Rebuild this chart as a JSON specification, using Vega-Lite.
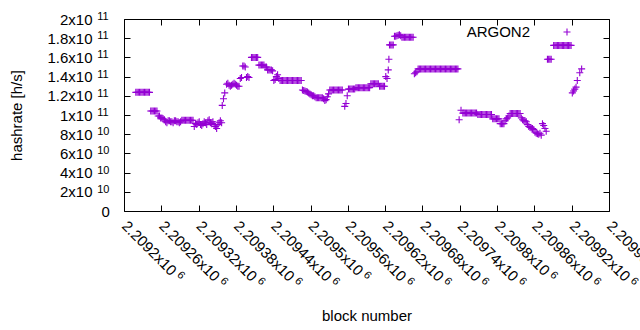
{
  "$schema": "https://vega.github.io/schema/vega-lite/v6.json",
  "width": 485,
  "height": 192,
  "autosize": "none",
  "padding": {"left": 124, "top": 19, "right": 31, "bottom": 119},
  "background": "white",
  "config": {
    "font": "Liberation Sans",
    "view": {"stroke": "black", "strokeWidth": 1},
    "axis": {"domain": false, "grid": false, "tickColor": "black", "tickSize": -6, "tickWidth": 1, "labelFont": "Liberation Sans", "labelFontSize": 15, "labelColor": "black", "titleFont": "Liberation Sans", "titleFontSize": 15, "titleFontWeight": "normal", "titleColor": "black"}
  },
  "data": {"values": [
    {"b":2209219,"h":1.236e11},{"b":2209221,"h":1.236e11},{"b":2209223,"h":1.236e11},{"b":2209225,"h":1.236e11},{"b":2209227,"h":1.236e11},{"b":2209229,"h":1.236e11},{"b":2209231,"h":1.236e11},{"b":2209233,"h":1.236e11},{"b":2209235,"h":1.236e11},{"b":2209237,"h":1.236e11},{"b":2209239,"h":1.236e11},{"b":2209241,"h":1.236e11},
    {"b":2209243,"h":1.042e11},{"b":2209245,"h":1.042e11},{"b":2209247,"h":1.042e11},{"b":2209249,"h":1.042e11},{"b":2209251,"h":1.042e11},{"b":2209253,"h":1.042e11},
    {"b":2209255,"h":9.9e10},{"b":2209257,"h":9.9e10},{"b":2209259,"h":9.7e10},{"b":2209261,"h":9.7e10},{"b":2209263,"h":9.6e10},
    {"b":2209265,"h":9.5e10},{"b":2209267,"h":9.3e10},{"b":2209269,"h":9.2e10},{"b":2209271,"h":9.4e10},{"b":2209273,"h":9.4e10},{"b":2209275,"h":9.3e10},{"b":2209277,"h":9.3e10},{"b":2209279,"h":9.2e10},{"b":2209281,"h":9.4e10},{"b":2209283,"h":9.4e10},{"b":2209285,"h":9.3e10},{"b":2209287,"h":9.3e10},{"b":2209289,"h":9.2e10},{"b":2209291,"h":9.3e10},
    {"b":2209293,"h":9.45e10},{"b":2209295,"h":9.45e10},{"b":2209297,"h":9.45e10},{"b":2209299,"h":9.45e10},{"b":2209301,"h":9.45e10},{"b":2209303,"h":9.45e10},{"b":2209305,"h":9.45e10},{"b":2209307,"h":9.45e10},{"b":2209309,"h":9.45e10},{"b":2209311,"h":9.45e10},
    {"b":2209313,"h":8.8e10},{"b":2209315,"h":9.1e10},{"b":2209317,"h":9.0e10},{"b":2209319,"h":9.2e10},{"b":2209321,"h":9.3e10},{"b":2209323,"h":9.0e10},{"b":2209325,"h":8.9e10},{"b":2209327,"h":9.1e10},{"b":2209329,"h":9.3e10},{"b":2209331,"h":9.2e10},{"b":2209333,"h":9.0e10},{"b":2209335,"h":9.4e10},{"b":2209337,"h":9.5e10},{"b":2209339,"h":9.2e10},{"b":2209341,"h":9.1e10},{"b":2209343,"h":9.3e10},{"b":2209345,"h":9.0e10},{"b":2209347,"h":8.8e10},{"b":2209349,"h":8.6e10},{"b":2209351,"h":9.0e10},{"b":2209353,"h":9.2e10},{"b":2209355,"h":9.4e10},{"b":2209357,"h":9.2e10},
    {"b":2209358,"h":1.10e11},{"b":2209360,"h":1.17e11},{"b":2209362,"h":1.23e11},
    {"b":2209365,"h":1.32e11},{"b":2209367,"h":1.33e11},{"b":2209369,"h":1.31e11},{"b":2209371,"h":1.30e11},{"b":2209373,"h":1.31e11},{"b":2209375,"h":1.32e11},{"b":2209377,"h":1.33e11},{"b":2209379,"h":1.32e11},{"b":2209381,"h":1.31e11},{"b":2209383,"h":1.30e11},{"b":2209385,"h":1.30e11},
    {"b":2209387,"h":1.38e11},{"b":2209389,"h":1.39e11},
    {"b":2209391,"h":1.51e11},{"b":2209393,"h":1.51e11},{"b":2209395,"h":1.50e11},
    {"b":2209397,"h":1.39e11},{"b":2209399,"h":1.40e11},{"b":2209401,"h":1.39e11},
    {"b":2209405,"h":1.60e11},{"b":2209407,"h":1.60e11},{"b":2209409,"h":1.60e11},{"b":2209411,"h":1.60e11},{"b":2209413,"h":1.60e11},{"b":2209415,"h":1.60e11},
    {"b":2209417,"h":1.52e11},{"b":2209419,"h":1.52e11},{"b":2209421,"h":1.52e11},{"b":2209423,"h":1.52e11},{"b":2209425,"h":1.52e11},
    {"b":2209427,"h":1.50e11},{"b":2209429,"h":1.50e11},
    {"b":2209431,"h":1.47e11},{"b":2209433,"h":1.47e11},{"b":2209435,"h":1.47e11},{"b":2209437,"h":1.47e11},{"b":2209439,"h":1.46e11},
    {"b":2209441,"h":1.36e11},{"b":2209443,"h":1.37e11},{"b":2209445,"h":1.40e11},{"b":2209447,"h":1.42e11},{"b":2209449,"h":1.38e11},
    {"b":2209451,"h":1.36e11},{"b":2209453,"h":1.36e11},{"b":2209455,"h":1.36e11},{"b":2209457,"h":1.36e11},{"b":2209459,"h":1.36e11},{"b":2209461,"h":1.36e11},{"b":2209463,"h":1.36e11},{"b":2209465,"h":1.36e11},{"b":2209467,"h":1.36e11},{"b":2209469,"h":1.36e11},{"b":2209471,"h":1.36e11},{"b":2209473,"h":1.36e11},{"b":2209475,"h":1.36e11},{"b":2209477,"h":1.36e11},{"b":2209479,"h":1.36e11},{"b":2209481,"h":1.36e11},{"b":2209483,"h":1.36e11},{"b":2209485,"h":1.36e11},
    {"b":2209487,"h":1.26e11},{"b":2209489,"h":1.255e11},{"b":2209491,"h":1.25e11},{"b":2209493,"h":1.245e11},{"b":2209495,"h":1.24e11},{"b":2209497,"h":1.23e11},{"b":2209499,"h":1.22e11},{"b":2209501,"h":1.21e11},{"b":2209503,"h":1.20e11},{"b":2209505,"h":1.20e11},{"b":2209507,"h":1.19e11},
    {"b":2209509,"h":1.18e11},{"b":2209511,"h":1.18e11},{"b":2209513,"h":1.18e11},{"b":2209515,"h":1.18e11},{"b":2209517,"h":1.18e11},{"b":2209519,"h":1.18e11},
    {"b":2209521,"h":1.17e11},{"b":2209523,"h":1.15e11},{"b":2209525,"h":1.16e11},{"b":2209527,"h":1.19e11},{"b":2209529,"h":1.22e11},
    {"b":2209531,"h":1.26e11},{"b":2209533,"h":1.26e11},{"b":2209535,"h":1.26e11},{"b":2209537,"h":1.26e11},{"b":2209539,"h":1.26e11},{"b":2209541,"h":1.26e11},{"b":2209543,"h":1.26e11},{"b":2209545,"h":1.26e11},{"b":2209547,"h":1.26e11},{"b":2209549,"h":1.26e11},{"b":2209551,"h":1.26e11},
    {"b":2209555,"h":1.09e11},{"b":2209557,"h":1.12e11},{"b":2209559,"h":1.20e11},
    {"b":2209561,"h":1.27e11},{"b":2209563,"h":1.27e11},{"b":2209565,"h":1.27e11},{"b":2209567,"h":1.27e11},{"b":2209569,"h":1.27e11},{"b":2209571,"h":1.27e11},
    {"b":2209573,"h":1.285e11},{"b":2209575,"h":1.285e11},{"b":2209577,"h":1.285e11},{"b":2209579,"h":1.285e11},{"b":2209581,"h":1.285e11},{"b":2209583,"h":1.285e11},{"b":2209585,"h":1.285e11},{"b":2209587,"h":1.285e11},{"b":2209589,"h":1.285e11},{"b":2209591,"h":1.285e11},{"b":2209593,"h":1.285e11},{"b":2209595,"h":1.285e11},
    {"b":2209597,"h":1.325e11},{"b":2209599,"h":1.325e11},{"b":2209601,"h":1.325e11},{"b":2209603,"h":1.325e11},{"b":2209605,"h":1.325e11},{"b":2209607,"h":1.325e11},{"b":2209609,"h":1.325e11},
    {"b":2209611,"h":1.30e11},{"b":2209613,"h":1.30e11},{"b":2209615,"h":1.30e11},{"b":2209617,"h":1.30e11},{"b":2209619,"h":1.30e11},
    {"b":2209621,"h":1.40e11},{"b":2209623,"h":1.38e11},{"b":2209625,"h":1.47e11},{"b":2209626,"h":1.58e11},
    {"b":2209627,"h":1.73e11},{"b":2209629,"h":1.73e11},{"b":2209631,"h":1.73e11},{"b":2209633,"h":1.73e11},
    {"b":2209635,"h":1.82e11},{"b":2209637,"h":1.82e11},{"b":2209639,"h":1.825e11},{"b":2209641,"h":1.83e11},{"b":2209643,"h":1.835e11},{"b":2209645,"h":1.825e11},
    {"b":2209647,"h":1.81e11},{"b":2209649,"h":1.81e11},{"b":2209651,"h":1.81e11},{"b":2209653,"h":1.81e11},{"b":2209655,"h":1.81e11},{"b":2209657,"h":1.81e11},{"b":2209659,"h":1.81e11},{"b":2209661,"h":1.81e11},{"b":2209663,"h":1.81e11},{"b":2209665,"h":1.81e11},
    {"b":2209667,"h":1.43e11},{"b":2209669,"h":1.44e11},{"b":2209671,"h":1.45e11},
    {"b":2209673,"h":1.48e11},{"b":2209675,"h":1.48e11},{"b":2209677,"h":1.48e11},{"b":2209679,"h":1.48e11},{"b":2209681,"h":1.48e11},{"b":2209683,"h":1.48e11},{"b":2209685,"h":1.48e11},{"b":2209687,"h":1.48e11},{"b":2209689,"h":1.48e11},{"b":2209691,"h":1.48e11},{"b":2209693,"h":1.48e11},{"b":2209695,"h":1.48e11},{"b":2209697,"h":1.48e11},{"b":2209699,"h":1.48e11},{"b":2209701,"h":1.48e11},{"b":2209703,"h":1.48e11},{"b":2209705,"h":1.48e11},{"b":2209707,"h":1.48e11},{"b":2209709,"h":1.48e11},{"b":2209711,"h":1.48e11},{"b":2209713,"h":1.48e11},{"b":2209715,"h":1.48e11},{"b":2209717,"h":1.48e11},{"b":2209719,"h":1.48e11},{"b":2209721,"h":1.48e11},{"b":2209723,"h":1.48e11},{"b":2209725,"h":1.48e11},{"b":2209727,"h":1.48e11},{"b":2209729,"h":1.48e11},{"b":2209731,"h":1.48e11},{"b":2209733,"h":1.48e11},{"b":2209735,"h":1.48e11},{"b":2209737,"h":1.48e11},
    {"b":2209739,"h":9.5e10},{"b":2209742,"h":1.05e11},
    {"b":2209745,"h":1.02e11},{"b":2209747,"h":1.02e11},{"b":2209749,"h":1.02e11},{"b":2209751,"h":1.02e11},{"b":2209753,"h":1.02e11},{"b":2209755,"h":1.02e11},{"b":2209757,"h":1.02e11},{"b":2209759,"h":1.02e11},{"b":2209761,"h":1.02e11},{"b":2209763,"h":1.02e11},{"b":2209765,"h":1.02e11},{"b":2209767,"h":1.02e11},
    {"b":2209769,"h":1.005e11},{"b":2209771,"h":1.005e11},{"b":2209773,"h":1.005e11},{"b":2209775,"h":1.005e11},{"b":2209777,"h":1.005e11},{"b":2209779,"h":1.005e11},{"b":2209781,"h":1.005e11},{"b":2209783,"h":1.005e11},{"b":2209785,"h":1.005e11},{"b":2209787,"h":1.005e11},{"b":2209789,"h":1.005e11},{"b":2209791,"h":1.005e11},
    {"b":2209793,"h":9.6e10},{"b":2209795,"h":9.6e10},{"b":2209797,"h":9.6e10},{"b":2209799,"h":9.6e10},{"b":2209801,"h":9.6e10},{"b":2209803,"h":9.6e10},
    {"b":2209805,"h":9.1e10},{"b":2209807,"h":9.1e10},{"b":2209809,"h":9.1e10},{"b":2209811,"h":9.1e10},
    {"b":2209813,"h":9.4e10},{"b":2209815,"h":9.6e10},{"b":2209817,"h":9.7e10},{"b":2209819,"h":9.9e10},
    {"b":2209821,"h":1.015e11},{"b":2209823,"h":1.015e11},{"b":2209825,"h":1.015e11},{"b":2209827,"h":1.015e11},{"b":2209829,"h":1.015e11},{"b":2209831,"h":1.015e11},{"b":2209833,"h":1.015e11},{"b":2209835,"h":1.015e11},{"b":2209837,"h":1.015e11},
    {"b":2209839,"h":9.7e10},{"b":2209841,"h":9.5e10},{"b":2209843,"h":9.4e10},{"b":2209845,"h":9.4e10},{"b":2209847,"h":9.3e10},{"b":2209849,"h":9.0e10},{"b":2209851,"h":8.8e10},{"b":2209853,"h":8.7e10},{"b":2209855,"h":8.65e10},{"b":2209857,"h":8.6e10},{"b":2209859,"h":8.5e10},{"b":2209861,"h":8.2e10},{"b":2209863,"h":8.1e10},{"b":2209865,"h":8.05e10},{"b":2209867,"h":8.0e10},{"b":2209869,"h":8.1e10},{"b":2209871,"h":7.9e10},{"b":2209873,"h":9.1e10},{"b":2209875,"h":8.9e10},{"b":2209877,"h":8.6e10},{"b":2209879,"h":8.3e10},
    {"b":2209881,"h":1.58e11},{"b":2209883,"h":1.58e11},{"b":2209885,"h":1.58e11},{"b":2209887,"h":1.58e11},
    {"b":2209891,"h":1.725e11},{"b":2209893,"h":1.725e11},{"b":2209895,"h":1.725e11},{"b":2209897,"h":1.725e11},{"b":2209899,"h":1.725e11},{"b":2209901,"h":1.725e11},{"b":2209903,"h":1.725e11},{"b":2209905,"h":1.725e11},{"b":2209907,"h":1.725e11},{"b":2209909,"h":1.725e11},{"b":2209911,"h":1.725e11},{"b":2209913,"h":1.725e11},{"b":2209915,"h":1.725e11},{"b":2209917,"h":1.725e11},{"b":2209919,"h":1.725e11},
    {"b":2209921,"h":1.23e11},{"b":2209923,"h":1.25e11},{"b":2209925,"h":1.27e11},{"b":2209927,"h":1.29e11},{"b":2209929,"h":1.36e11},{"b":2209933,"h":1.44e11},{"b":2209936,"h":1.48e11}
  ]},
  "layer": [
    {
      "mark": {"type": "point", "shape": "M-1,0L1,0M0,-1L0,1", "filled": false, "strokeWidth": 1.1, "size": 49, "opacity": 1},
      "encoding": {
        "x": {"field": "b", "type": "quantitative",
          "scale": {"domain": [2209200, 2209980], "nice": false, "zero": false},
          "axis": {"orient": "bottom", "values": [2209200,2209260,2209320,2209380,2209440,2209500,2209560,2209620,2209680,2209740,2209800,2209860,2209920,2209980],
            "labelExpr": "format(datum.value/1e6, '.6~g') + 'x10'", "labelAngle": 45, "labelAlign": "left", "labelBaseline": "middle", "labelPadding": 18, "labelOverlap": false, "labelFlush": false,
            "title": "block number", "titlePadding": 24}},
        "y": {"field": "h", "type": "quantitative",
          "scale": {"domain": [0, 2e11], "nice": false},
          "axis": {"orient": "left", "values": [0,2e10,4e10,6e10,8e10,1e11,1.2e11,1.4e11,1.6e11,1.8e11,2e11],
            "labelExpr": "datum.value == 0 ? '' : (datum.value < 9.9e10 ? format(datum.value/1e10, '.3~g') : format(datum.value/1e11, '.3~g')) + 'x10'",
            "labelPadding": 38, "labelOverlap": false, "labelFlush": false, "title": "hashrate [h/s]", "titlePadding": 22}},
        "color": {"datum": "ARGON2", "scale": {"range": ["#9400d3"]},
          "legend": {"orient": "none", "legendX": 435.5, "legendY": 5.5, "title": null, "padding": 0, "labelFont": "Liberation Sans", "labelFontSize": 15, "labelColor": "black", "labelAlign": "right", "labelOffset": -44.5, "symbolType": "M-1,0L1,0M0,-1L0,1", "symbolSize": 49, "symbolStrokeWidth": 1.1, "symbolOpacity": 1, "symbolFillColor": "transparent", "symbolStrokeColor": "#9400d3"}}
      }
    },
    {
      "mark": {"type": "point", "opacity": 0},
      "encoding": {
        "x": {"field": "b", "type": "quantitative",
          "scale": {"domain": [2209200, 2209980], "nice": false, "zero": false},
          "axis": {"orient": "top", "values": [2209200,2209260,2209320,2209380,2209440,2209500,2209560,2209620,2209680,2209740,2209800,2209860,2209920,2209980], "labels": false, "title": null}},
        "y": {"field": "h", "type": "quantitative",
          "scale": {"domain": [0, 2e11], "nice": false},
          "axis": {"orient": "left", "values": [0,2e10,4e10,6e10,8e10,1e11,1.2e11,1.4e11,1.6e11,1.8e11,2e11], "ticks": false, "title": null,
            "labelExpr": "datum.value == 0 ? '0' : (datum.value < 9.9e10 ? '10' : '11')",
            "labelAlign": "left",
            "labelFontSize": {"condition": {"test": "datum.value == 0", "value": 15}, "value": 11},
            "labelPadding": {"condition": {"test": "datum.value == 0", "value": 23}, "value": 27.3},
            "labelOffset": {"condition": {"test": "datum.value == 0", "value": 0}, "value": -2.5},
            "labelOverlap": false, "labelFlush": false}}
      }
    },
    {
      "mark": {"type": "point", "opacity": 0},
      "encoding": {
        "x": {"field": "b", "type": "quantitative",
          "scale": {"domain": [2209200, 2209980], "nice": false, "zero": false},
          "axis": {"orient": "bottom", "values": [2209200,2209260,2209320,2209380,2209440,2209500,2209560,2209620,2209680,2209740,2209800,2209860,2209920,2209980], "ticks": false, "title": null,
            "labelExpr": "'6'", "labelFontSize": 11, "labelAngle": 45, "labelAlign": "left", "labelBaseline": "middle",
            "labelPadding": {"condition": {"test": "datum.value % 300 == 0", "value": 61.8}, "value": 67.8},
            "labelOffset": {"condition": {"test": "datum.value % 300 == 0", "value": 54.1}, "value": 60.0},
            "labelOverlap": false, "labelFlush": false}},
        "y": {"field": "h", "type": "quantitative",
          "scale": {"domain": [0, 2e11], "nice": false},
          "axis": {"orient": "right", "values": [0,2e10,4e10,6e10,8e10,1e11,1.2e11,1.4e11,1.6e11,1.8e11,2e11], "labels": false, "title": null}}
      }
    }
  ],
  "resolve": {"axis": {"x": "independent", "y": "independent"}}
}
